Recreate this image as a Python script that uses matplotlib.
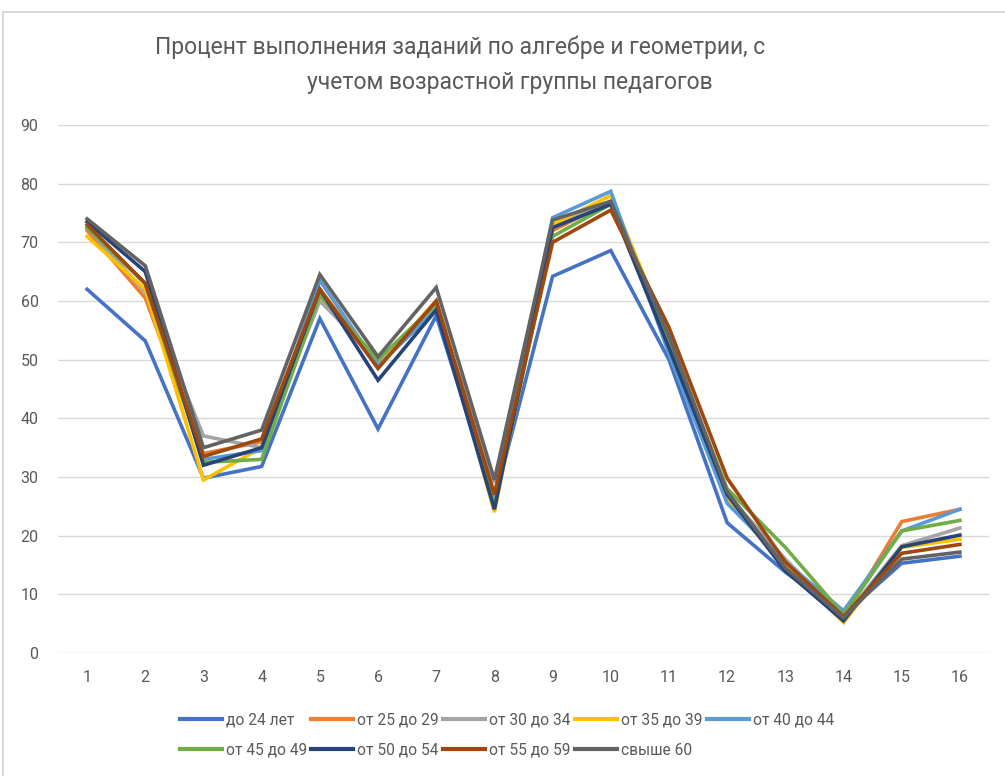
import matplotlib
matplotlib.use("Agg")
import matplotlib.pyplot as plt
from matplotlib.patches import Rectangle

plt.rcParams['font.family'] = ['Roboto', 'DejaVu Sans']

tasks = list(range(1, 17))
tick_labels = [str(t) for t in tasks]

series_names = ["до 24 лет", "от 25 до 29", "от 30 до 34", "от 35 до 39", "от 40 до 44",
                "от 45 до 49", "от 50 до 54", "от 55 до 59", "свыше 60"]

do_24   = [62.0, 53.2, 29.8, 31.8, 57.0, 38.2, 57.5, 26.0, 64.2, 68.6, 50.0, 22.2, 13.8, 6.5, 15.3, 16.5]
ot_25   = [72.0, 60.5, 34.0, 36.0, 61.0, 49.0, 60.0, 27.0, 72.0, 77.0, 54.0, 26.0, 15.0, 6.0, 22.4, 24.5]
ot_30   = [72.5, 61.5, 37.0, 35.0, 60.0, 50.0, 59.0, 29.0, 73.0, 77.0, 53.0, 27.0, 16.0, 6.0, 18.3, 21.3]
ot_35   = [71.0, 62.0, 29.5, 35.0, 62.0, 49.0, 60.0, 24.0, 73.0, 78.0, 54.0, 26.0, 15.0, 5.2, 18.0, 19.4]
ot_40   = [72.5, 63.0, 33.0, 34.5, 63.5, 49.0, 58.5, 26.0, 74.2, 78.7, 51.0, 25.5, 15.5, 7.2, 20.8, 24.5]
ot_45   = [72.5, 63.0, 32.5, 33.0, 61.0, 50.0, 59.5, 25.0, 71.0, 76.5, 53.0, 28.0, 18.0, 6.5, 20.8, 22.6]
ot_50   = [73.5, 65.0, 32.0, 35.0, 62.0, 46.5, 58.5, 24.5, 72.5, 76.5, 52.0, 27.0, 14.0, 5.5, 18.1, 20.1]
ot_55   = [73.0, 63.0, 33.5, 36.5, 62.0, 48.5, 60.0, 27.0, 70.0, 75.5, 55.5, 29.8, 15.5, 6.2, 17.0, 18.5]
over_60 = [74.0, 66.0, 35.0, 38.0, 64.5, 50.5, 62.3, 29.5, 73.8, 77.0, 54.0, 27.5, 14.5, 6.0, 16.0, 17.2]

series_values = [do_24, ot_25, ot_30, ot_35, ot_40, ot_45, ot_50, ot_55, over_60]
colors = ["#4472C4", "#ED7D31", "#A5A5A5", "#FFC000", "#5B9BD5",
          "#70AD47", "#264478", "#9E480E", "#636363"]

W, H = 1005, 776
fig = plt.figure(figsize=(W / 100, H / 100), dpi=100)

# chart border
fig.patches.append(Rectangle((3 / W, -0.02), 1.05, 1 - 12 / H + 0.02, transform=fig.transFigure,
                             fill=False, edgecolor="#D9D9D9", linewidth=1.5))

ax = fig.add_axes([58 / W, 1 - 653 / H, (989 - 58) / W, (653 - 125) / H])
lines = []
for name, vals, c in zip(series_names, series_values, colors):
    ln, = ax.plot(tasks, vals, color=c, linewidth=2.6, label=name, solid_joinstyle='miter')
    lines.append(ln)

ax.set_xlim(0.5, 16.5)
ax.set_ylim(0, 90)
ax.set_yticks(range(0, 91, 10))
ax.set_xticks(tasks)
ax.set_xticklabels(tick_labels)
ax.grid(axis='y', color="#D9D9D9", linewidth=1.0)
ax.set_axisbelow(True)
for s in ax.spines.values():
    s.set_visible(False)
ax.tick_params(axis='both', length=0, labelsize=11.5, labelcolor="#595959")
ax.tick_params(axis='y', pad=14)
ax.tick_params(axis='x', pad=12)

fig.text(460 / W, 1 - 47 / H, "Процент выполнения заданий по алгебре и геометрии, с",
         ha='center', va='center', fontsize=16.5, color="#595959")
fig.text(510 / W, 1 - 83 / H, "учетом возрастной группы педагогов",
         ha='center', va='center', fontsize=16.5, color="#595959")

order = [0, 5, 1, 6, 2, 7, 3, 8, 4]
leg = fig.legend([lines[i] for i in order], [series_names[i] for i in order],
                 ncol=5, loc='center', bbox_to_anchor=(507 / W, 1 - 735 / H),
                 frameon=False, fontsize=11.2, handlelength=2.7, handletextpad=0.25,
                 columnspacing=0.3, labelspacing=1.0, labelcolor="#595959")
for h in leg.get_lines():
    h.set_linewidth(3)

fig.savefig("out.png", dpi=100)
